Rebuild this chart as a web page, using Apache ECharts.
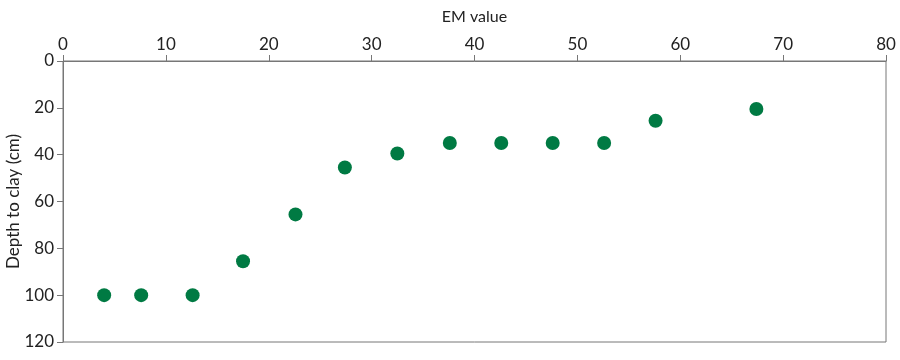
<!DOCTYPE html>
<html>
<head>
<meta charset="utf-8">
<script src="https://cdn.jsdelivr.net/npm/echarts@6/dist/echarts.min.js"></script>
<style>html,body{margin:0;padding:0;background:#fff}#c{width:900px;height:360px}</style>
</head>
<body>
<div id="c"></div>
<script>
const emValues = [4, 7.6, 12.6, 17.5, 22.6, 27.4, 32.5, 37.6, 42.6, 47.6, 52.6, 57.6, 67.4];
const depthValues = [100, 100, 100, 85.5, 65.5, 45.5, 39.5, 35, 35, 35, 35, 25.5, 20.5];
const xTitle = 'EM value';
const yTitle = 'Depth to clay (cm)';

const points = emValues.map((x, i) => [x, depthValues[i]]);
const font = 'Lato, "Open Sans", sans-serif';
const chart = echarts.init(document.getElementById('c'), null, {renderer: 'canvas'});
chart.setOption({
  animation: false,
  grid: {left: 63, right: 14, top: 61, bottom: 18, containLabel: false, outerBoundsMode: 'none',
         show: true, borderColor: '#777', borderWidth: 1, backgroundColor: 'transparent'},
  xAxis: {
    type: 'value', position: 'top', min: 0, max: 80, interval: 10,
    name: xTitle, nameLocation: 'middle', nameGap: 36, nameMoveOverlap: false,
    nameTextStyle: {color: '#222', fontSize: 16, fontFamily: font},
    axisLine: {show: true, lineStyle: {color: '#777', width: 1}},
    axisTick: {show: true, length: 6, lineStyle: {color: '#777'}},
    axisLabel: {color: '#222', fontSize: 17, fontFamily: font, margin: 8},
    splitLine: {show: false}
  },
  yAxis: {
    type: 'value', inverse: true, min: 0, max: 120, interval: 20,
    name: yTitle, nameLocation: 'middle', nameGap: 41, nameMoveOverlap: false,
    nameTextStyle: {color: '#222', fontSize: 17, fontFamily: font},
    axisLine: {show: true, lineStyle: {color: '#777', width: 1}},
    axisTick: {show: true, length: 6, lineStyle: {color: '#777'}},
    axisLabel: {color: '#222', fontSize: 17, fontFamily: font, margin: 9},
    splitLine: {show: false}
  },
  series: [{
    type: 'scatter', data: points, symbol: 'circle', symbolSize: 14,
    itemStyle: {color: '#007a43', opacity: 1}
  }]
});
</script>
</body>
</html>
